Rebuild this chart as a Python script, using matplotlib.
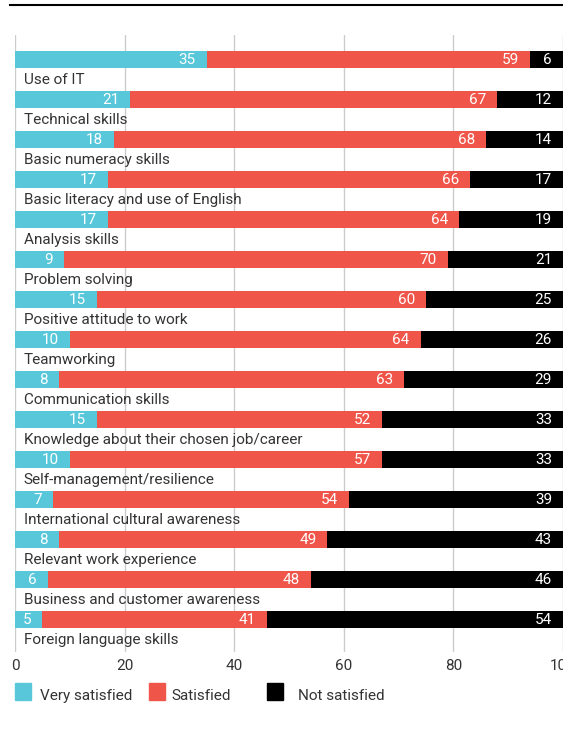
import numpy as np
import matplotlib.pyplot as plt
from matplotlib.patches import Rectangle
from matplotlib.lines import Line2D

skills = ['Use of IT', 'Technical skills', 'Basic numeracy skills',
          'Basic literacy and use of English', 'Analysis skills', 'Problem solving',
          'Positive attitude to work', 'Teamworking', 'Communication skills',
          'Knowledge about their chosen job/career', 'Self-management/resilience',
          'International cultural awareness', 'Relevant work experience',
          'Business and customer awareness', 'Foreign language skills']
very = [35, 21, 18, 17, 17, 9, 15, 10, 8, 15, 10, 7, 8, 6, 5]
sat = [59, 67, 68, 66, 64, 70, 60, 64, 63, 52, 57, 54, 49, 48, 41]
notsat = [6, 12, 14, 17, 19, 21, 25, 26, 29, 33, 33, 39, 43, 46, 54]

series = ['Very satisfied', 'Satisfied', 'Not satisfied']
colors = ['#59c7da', '#f0554a', '#000000']
ticks = [0, 20, 40, 60, 80, 100]

plt.rcParams['font.family'] = ['Roboto', 'DejaVu Sans']
txt = '#333333'

fig = plt.figure(figsize=(5.63, 7.4), dpi=100)
ax = fig.add_axes([15 / 563, 1 - 652 / 740, 548 / 563, (652 - 35) / 740])

y = np.arange(len(skills))
h = 17 / 40
left = np.zeros(len(skills))
for vals, col in zip([very, sat, notsat], colors):
    vals = np.array(vals)
    ax.barh(y, vals, left=left, height=h, color=col, zorder=2)
    for yi, l, v in zip(y, left, vals):
        ax.text(l + v - 2.0, yi + 0.02, str(v), ha='right', va='center',
                color='white', fontsize=11, zorder=3)
    left = left + vals

for yi, s in zip(y, skills):
    ax.text(1.6, yi + 0.52, s, ha='left', va='center', color=txt, fontsize=11)

ax.set_xlim(0, 100)
ax.set_ylim(14.81, -0.6125)
ax.set_xticks(ticks)
ax.set_xticklabels([str(t) for t in ticks], color=txt, fontsize=11)
ax.tick_params(axis='x', length=0, pad=5)
ax.set_yticks([])
ax.grid(axis='x', color='#cccccc', linewidth=1, zorder=0)
for sp in ax.spines.values():
    sp.set_visible(False)

# top rule
fig.add_artist(Line2D([10 / 563, 1], [1 - 5 / 740] * 2, color='black', linewidth=1.5))

# legend
lx = [15, 149, 267]
tx = [40, 171, 298]
for name, col, x0, x1 in zip(series, colors, lx, tx):
    fig.add_artist(Rectangle((x0 / 563, 1 - 700 / 740), 16 / 563, 17 / 740,
                             color=col, transform=fig.transFigure))
    fig.text(x1 / 563, 1 - 696 / 740, name, ha='left', va='center', color=txt, fontsize=11)

fig.savefig('out.png', dpi=100)
